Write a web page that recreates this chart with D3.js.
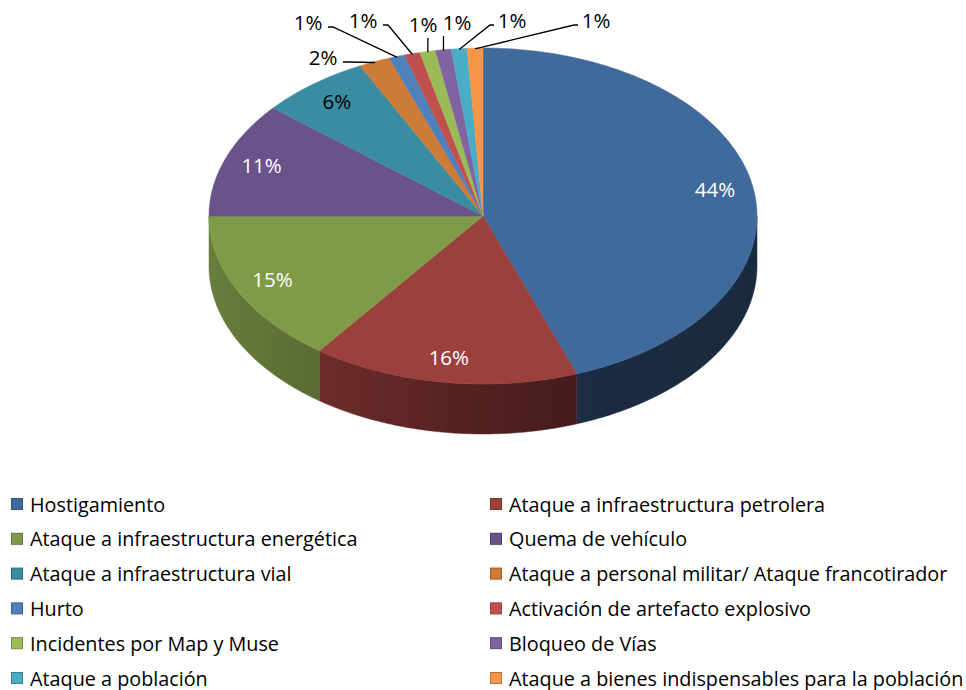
<!DOCTYPE html>
<html>
<head>
<meta charset="utf-8">
<script src="https://cdn.jsdelivr.net/npm/d3@7"></script>
<style>
  body { margin: 0; background: #fff; }
  svg text { font-family: "Open Sans", "Noto Sans", sans-serif; }
</style>
</head>
<body>
<div class="main_content"></div>
<script>
// Chart data
const categories = [
    'Hostigamiento',
    'Ataque a infraestructura petrolera',
    'Ataque a infraestructura energética',
    'Quema de vehículo',
    'Ataque a infraestructura vial',
    'Ataque a personal militar/ Ataque francotirador',
    'Hurto',
    'Activación de artefacto explosivo',
    'Incidentes por Map y Muse',
    'Bloqueo de Vías',
    'Ataque a población',
    'Ataque a bienes indispensables para la población'
];
const counts = [48, 17, 16, 12, 7, 2, 1, 1, 1, 1, 1, 1];
const colors = ['#40699C', '#9C403E', '#7F9A48', '#69538A', '#3A8CA3', '#CC7B38',
                '#4F81BD', '#C0504D', '#9BBB59', '#8064A2', '#4BACC6', '#F79646'];

// Where the outside (leader line) labels sit, by slice index
const calloutAt = {5: [323, 57], 6: [308, 22], 7: [363, 20], 8: [423, 24],
                   9: [457, 22], 10: [512, 20], 11: [596, 20]};

class PieChart3D {
    constructor() {
        this.width = 966;
        this.height = 690;
        this.cx = 483;
        this.cy = 216;
        this.rx = 274;
        this.ry = 168;
        this.depth = 50;
        this.legendFont = '19.8px';
        this.labelFont = '20.5px';
    }

    render() {
        this.svg = d3.select('.main_content').append('svg')
            .attr('width', this.width)
            .attr('height', this.height);

        let total = d3.sum(counts);
        let pct = v => Math.round(v / total * 100) + '%';

        // Unit circle -> ellipse scales
        let xScale = d3.scaleLinear().domain([-1, 1]).range([this.cx - this.rx, this.cx + this.rx]);
        let yScale = d3.scaleLinear().domain([-1, 1]).range([this.cy - this.ry, this.cy + this.ry]);
        let pt = (a, r, dy) => [xScale(r * Math.sin(a)), yScale(-r * Math.cos(a)) + (dy || 0)];
        let arcPts = (a0, a1, dy) => {
            let n = Math.max(2, Math.ceil((a1 - a0) / 0.01));
            return d3.range(n + 1).map(i => pt(a0 + (a1 - a0) * i / n, 1, dy));
        };
        let line = d3.line();

        let arcs = d3.pie().sort(null).value(d => d)(counts);

        // Side gradients, darker toward the right
        let defs = this.svg.append('defs');
        arcs.forEach((d, i) => {
            let base = d3.rgb(colors[i]);
            let g = defs.append('linearGradient')
                .attr('id', 'side' + i)
                .attr('gradientUnits', 'userSpaceOnUse')
                .attr('x1', xScale(-1)).attr('x2', xScale(1))
                .attr('y1', 0).attr('y2', 0);
            [[0, 0.82], [0.5, 0.52], [0.7, 0.42], [1, 0.40]].forEach(s => {
                g.append('stop')
                    .attr('offset', s[0])
                    .attr('stop-color', d3.rgb(base.r * s[1], base.g * s[1], base.b * s[1]).formatHex());
            });
        });

        // Front walls
        arcs.forEach((d, i) => {
            let a0 = Math.max(d.startAngle, Math.PI / 2);
            let a1 = Math.min(d.endAngle, Math.PI * 1.5);
            if (a0 >= a1) return;
            let pts = arcPts(a0, a1, 0).concat(arcPts(a0, a1, this.depth).reverse());
            this.svg.append('path')
                .attr('d', line(pts) + 'Z')
                .style('fill', 'url(#side' + i + ')')
                .style('stroke', 'url(#side' + i + ')')
                .style('stroke-width', 0.5);
        });

        // Top faces
        this.svg.append('g').selectAll('path')
            .data(arcs)
            .enter().append('path')
            .attr('d', d => line([[this.cx, this.cy]].concat(arcPts(d.startAngle, d.endAngle, 0))) + 'Z')
            .style('fill', (d, i) => colors[i])
            .style('stroke', (d, i) => colors[i])
            .style('stroke-width', 0.5);

        // Inside labels
        let inside = arcs.filter((d, i) => !(i in calloutAt));
        this.svg.append('g').selectAll('text')
            .data(inside)
            .enter().append('text')
            .attr('x', d => pt((d.startAngle + d.endAngle) / 2, 0.86)[0])
            .attr('y', d => pt((d.startAngle + d.endAngle) / 2, 0.86)[1] - 2)
            .attr('text-anchor', 'middle')
            .attr('dominant-baseline', 'central')
            .style('font-size', this.labelFont)
            .style('fill', d => d.index === 4 ? '#000' : '#fff')
            .text(d => pct(d.value));

        // Outside labels with leader lines
        let outG = this.svg.append('g');
        arcs.filter((d, i) => i in calloutAt).forEach(d => {
            let [tx, ty] = calloutAt[d.index];
            let edge = pt((d.startAngle + d.endAngle) / 2, 0.995);
            let half = 16;
            let pts;
            if (edge[0] > tx + half) {
                pts = [[tx + half + 4, ty + 5], [tx + half + 9, ty + 5], edge];
            } else if (edge[0] < tx - half) {
                pts = [[tx - half - 2, ty + 5], [tx - half - 6, ty + 5], edge];
            } else {
                pts = [[edge[0], ty + 14], edge];
            }
            outG.append('path')
                .attr('d', line(pts))
                .style('fill', 'none')
                .style('stroke', '#000')
                .style('stroke-width', 1.3);
            outG.append('text')
                .attr('x', tx)
                .attr('y', ty)
                .attr('text-anchor', 'middle')
                .attr('dominant-baseline', 'central')
                .style('font-size', this.labelFont)
                .style('fill', '#000')
                .text(pct(d.value));
        });

        // Legend, two columns
        let legend = this.svg.append('g');
        let items = legend.selectAll('g')
            .data(categories)
            .enter().append('g')
            .attr('transform', (d, i) => 'translate(' + (i % 2 === 0 ? 11 : 490) + ',' + (504 + Math.floor(i / 2) * 34.8) + ')');
        items.append('rect')
            .attr('x', 0.5).attr('y', -5.5)
            .attr('width', 11).attr('height', 11)
            .style('fill', (d, i) => colors[i])
            .style('stroke', (d, i) => d3.rgb(colors[i]).darker(0.8))
            .style('stroke-width', 1);
        items.append('text')
            .attr('x', 19)
            .attr('y', 0)
            .attr('dominant-baseline', 'central')
            .style('font-size', this.legendFont)
            .style('fill', '#000')
            .text(d => d);
    }
}

new PieChart3D().render();
</script>
</body>
</html>
